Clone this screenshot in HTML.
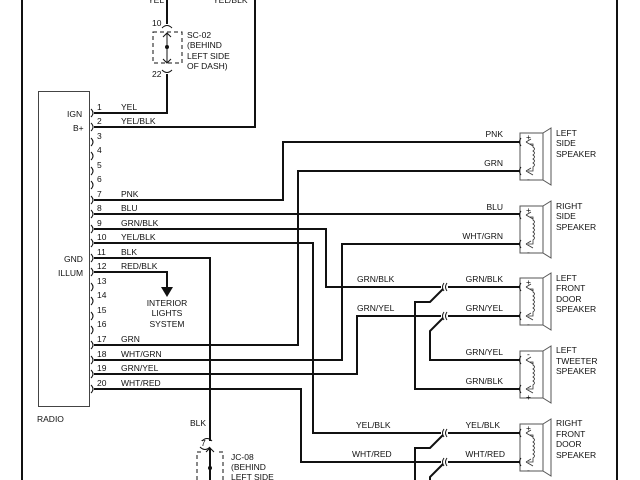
<!DOCTYPE html>
<html><head><meta charset="utf-8"><style>
html,body{margin:0;padding:0;background:#fff;}
svg{display:block;}
text{font-family:"Liberation Sans",sans-serif;font-size:8.5px;fill:#111;}
</style></head><body>
<svg width="640" height="480" viewBox="0 0 640 480" xmlns="http://www.w3.org/2000/svg">
<defs>
<g id="spk">
 <!-- origin: top wire y=0, left of box x=520 -->
 <rect x="520" y="-9" width="23" height="47" fill="none" stroke="#555" stroke-width="1"/>
 <polygon points="543,-9 551,-14 551,43 543,38" fill="none" stroke="#555" stroke-width="1"/>
 <path d="M526,0 L533,4 M526,0 L531,-3 M526,29 L533,33 M526,29 L531,26" fill="none" stroke="#333" stroke-width="0.8"/>
 <path d="M530,2 L533,2 L533,5 q3,2 0,4 q3,2 0,4 q3,2 0,4 q3,2 0,4 q3,2 0,4 L533,29 L528,29" fill="none" stroke="#333" stroke-width="0.8"/>
 <path d="M521,-4 q-3,4 0,8 M521,25 q-3,4 0,8" fill="none" stroke="#111" stroke-width="1"/>
</g>
<g id="conn">
 <path d="M447,-4 q-3,4 0,8 M444,-4 q-3,4 0,8" fill="none" stroke="#111" stroke-width="1"/>
</g>
</defs>

<g fill="none" stroke="#111" stroke-width="2">
 <line x1="22" y1="0" x2="22" y2="480"/>
 <line x1="617" y1="0" x2="617" y2="480"/>
 <!-- pin1 YEL -->
 <polyline points="94,113 167,113 167,74"/>
 <line x1="167" y1="0" x2="167" y2="24"/>
 <!-- pin2 -->
 <polyline points="94,127 255,127 255,0"/>
 <!-- pin7 PNK -->
 <polyline points="94,200 283,200 283,142 520,142"/>
 <!-- pin17 GRN -->
 <polyline points="94,345 298,345 298,171 520,171"/>
 <!-- pin8 BLU -->
 <polyline points="94,214 520,214"/>
 <!-- pin18 WHT/GRN -->
 <polyline points="94,360 342,360 342,244 520,244"/>
 <!-- pin9 GRN/BLK -->
 <polyline points="94,229 326,229 326,287 441,287"/>
 <!-- pin10 YEL/BLK -->
 <polyline points="94,243 313,243 313,433 441,433"/>
 <!-- pin19 GRN/YEL -->
 <polyline points="94,374 357,374 357,316 441,316"/>
 <!-- pin20 WHT/RED -->
 <polyline points="94,389 301,389 301,462 441,462"/>
 <!-- pin11 BLK -->
 <polyline points="94,258 210,258 210,441"/>
 <line x1="210" y1="448" x2="210" y2="480"/>
 <!-- pin12 RED/BLK -->
 <polyline points="94,272 167,272 167,288"/>
 <!-- speaker side wires -->
 <line x1="448" y1="287" x2="520" y2="287"/>
 <line x1="448" y1="316" x2="520" y2="316"/>
 <line x1="448" y1="433" x2="520" y2="433"/>
 <line x1="448" y1="462" x2="520" y2="462"/>
 <polyline points="443,289 430,302 415,302 415,389 520,389"/>
 <polyline points="443,318 430,331 430,360 520,360"/>
 <polyline points="443,435 430,448 415,448 415,480"/>
 <polyline points="443,464 430,477 430,480"/>
</g>
<polygon points="161,287 173,287 167,297" fill="#111"/>

<!-- radio box -->
<rect x="38.5" y="91.5" width="51" height="315" fill="none" stroke="#444" stroke-width="1"/>
<g fill="none" stroke="#111" stroke-width="1">
 <path d="M91,109 q4,4 0,8 M91,123 q4,4 0,8 M91,138 q4,4 0,8 M91,152 q4,4 0,8 M91,167 q4,4 0,8 M91,181 q4,4 0,8 M91,196 q4,4 0,8 M91,210 q4,4 0,8 M91,225 q4,4 0,8 M91,239 q4,4 0,8 M91,254 q4,4 0,8 M91,268 q4,4 0,8 M91,283 q4,4 0,8 M91,297 q4,4 0,8 M91,312 q4,4 0,8 M91,326 q4,4 0,8 M91,341 q4,4 0,8 M91,356 q4,4 0,8 M91,370 q4,4 0,8 M91,385 q4,4 0,8"/>
</g>

<!-- SC-02 -->
<g fill="none" stroke="#111" stroke-width="1">
 <path d="M162,28 q5,-5 10,0 M162,70 q5,5 10,0"/>
 <rect x="153" y="32" width="29" height="31" stroke-dasharray="4,3"/>
 <line x1="167" y1="33" x2="167" y2="62"/>
 <path d="M163,37 l4,-4 l4,4 M163,59 l4,4 l4,-4"/>
 <path d="M202,441 q5,-5 10,0 M200,447 q5,5 10,0"/>
 <path d="M197,480 L197,452 L201,452 M219,452 L223,452 L223,480" stroke-dasharray="4,3"/>
 <path d="M206,452 l4,-4 l4,4"/>
</g>
<circle cx="167" cy="47" r="2" fill="#111"/>
<circle cx="210" cy="468" r="2" fill="#111"/>

<use href="#spk" y="142"/>
<use href="#spk" y="215"/>
<use href="#spk" y="287"/>
<use href="#spk" y="360"/>
<use href="#spk" y="433"/>
<use href="#conn" y="287"/>
<use href="#conn" y="316"/>
<use href="#conn" y="433"/>
<use href="#conn" y="462"/>

<g>
<text x="148" y="3">YEL</text><text x="213" y="3">YEL/BLK</text>
<text x="152" y="26">10</text><text x="152" y="77">22</text>
<text x="187" y="38">SC-02</text><text x="187" y="48">(BEHIND</text><text x="187" y="59">LEFT SIDE</text><text x="187" y="69">OF DASH)</text>
<text x="67" y="117">IGN</text><text x="73" y="131">B+</text>
<text x="64" y="262">GND</text><text x="58" y="276">ILLUM</text>
<text x="37" y="422">RADIO</text>
</g>
<g>
<text x="97" y="110">1</text><text x="97" y="124">2</text><text x="97" y="139">3</text><text x="97" y="153">4</text><text x="97" y="168">5</text><text x="97" y="182">6</text><text x="97" y="197">7</text><text x="97" y="211">8</text><text x="97" y="226">9</text><text x="97" y="240">10</text><text x="97" y="255">11</text><text x="97" y="269">12</text><text x="97" y="284">13</text><text x="97" y="298">14</text><text x="97" y="313">15</text><text x="97" y="327">16</text><text x="97" y="342">17</text><text x="97" y="357">18</text><text x="97" y="371">19</text><text x="97" y="386">20</text>
</g>
<g>
<text x="121" y="110">YEL</text><text x="121" y="124">YEL/BLK</text>
<text x="121" y="197">PNK</text><text x="121" y="211">BLU</text><text x="121" y="226">GRN/BLK</text><text x="121" y="240">YEL/BLK</text>
<text x="121" y="255">BLK</text><text x="121" y="269">RED/BLK</text>
<text x="121" y="342">GRN</text><text x="121" y="357">WHT/GRN</text><text x="121" y="371">GRN/YEL</text><text x="121" y="386">WHT/RED</text>
<text x="167" y="306" text-anchor="middle">INTERIOR</text><text x="167" y="316" text-anchor="middle">LIGHTS</text><text x="167" y="327" text-anchor="middle">SYSTEM</text>
<text x="190" y="426">BLK</text><text x="201" y="446">7</text>
<text x="231" y="460">JC-08</text><text x="231" y="470">(BEHIND</text><text x="231" y="480">LEFT SIDE</text>
</g>
<g text-anchor="end">
<text x="503" y="137">PNK</text><text x="503" y="166">GRN</text>
<text x="503" y="210">BLU</text><text x="503" y="239">WHT/GRN</text>
<text x="503" y="282">GRN/BLK</text><text x="503" y="311">GRN/YEL</text>
<text x="503" y="355">GRN/YEL</text><text x="503" y="384">GRN/BLK</text>
<text x="500" y="428">YEL/BLK</text><text x="505" y="457">WHT/RED</text>
</g>
<g>
<text x="357" y="282">GRN/BLK</text><text x="357" y="311">GRN/YEL</text>
<text x="356" y="428">YEL/BLK</text><text x="352" y="457">WHT/RED</text>
</g>
<g>
<text x="556" y="136">LEFT</text><text x="556" y="146">SIDE</text><text x="556" y="157">SPEAKER</text>
<text x="556" y="209">RIGHT</text><text x="556" y="219">SIDE</text><text x="556" y="230">SPEAKER</text>
<text x="556" y="281">LEFT</text><text x="556" y="291">FRONT</text><text x="556" y="302">DOOR</text><text x="556" y="312">SPEAKER</text>
<text x="556" y="353">LEFT</text><text x="556" y="364">TWEETER</text><text x="556" y="374">SPEAKER</text>
<text x="556" y="426">RIGHT</text><text x="556" y="437">FRONT</text><text x="556" y="447">DOOR</text><text x="556" y="458">SPEAKER</text>
</g>
<g style="font-size:7px">
<text x="526" y="140">+</text><text x="527" y="182">-</text>
<text x="526" y="213">+</text><text x="527" y="255">-</text>
<text x="526" y="285">+</text><text x="527" y="327">-</text>
<text x="527" y="357">-</text><text x="526" y="400">+</text>
<text x="526" y="431">+</text><text x="527" y="473">-</text>
</g>
</svg>
</body></html>
